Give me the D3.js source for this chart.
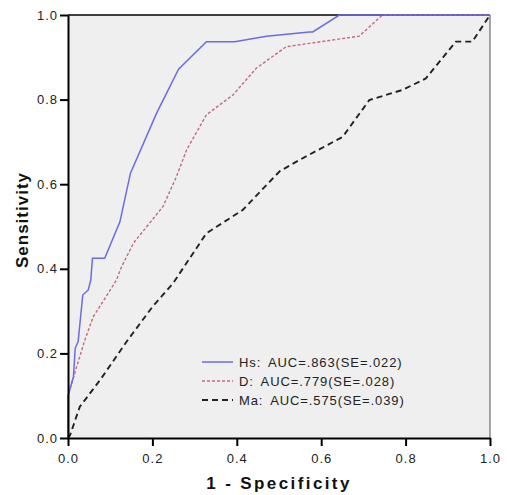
<!DOCTYPE html>
<html>
<head>
<meta charset="utf-8">
<script src="https://cdn.jsdelivr.net/npm/d3@7"></script>
<style>
  body { margin: 0; background: #fff; }
  text { font-family: "Liberation Sans", Arial, sans-serif; }
</style>
</head>
<body>
<svg id="chart" width="507" height="495"></svg>
<script>
// ROC curves
var hsX = [0, 0, 0.013, 0.017, 0.024, 0.035, 0.048, 0.054, 0.058, 0.087, 0.123, 0.148, 0.21, 0.262, 0.328, 0.395, 0.47, 0.572, 0.58, 0.643, 1.0]
var hsY = [0, 0.10, 0.145, 0.212, 0.228, 0.338, 0.35, 0.374, 0.425, 0.425, 0.511, 0.626, 0.768, 0.872, 0.937, 0.937, 0.95, 0.96, 0.96, 1.0, 1.0]

var dX = [0, 0, 0.017, 0.04, 0.06, 0.08, 0.115, 0.127, 0.156, 0.225, 0.257, 0.281, 0.328, 0.391, 0.446, 0.517, 0.572, 0.69, 0.745, 1.0]
var dY = [0, 0.10, 0.157, 0.232, 0.287, 0.318, 0.374, 0.405, 0.462, 0.547, 0.618, 0.681, 0.764, 0.811, 0.874, 0.925, 0.933, 0.95, 1.0, 1.0]

var maX = [0, 0.005, 0.028, 0.076, 0.139, 0.2, 0.249, 0.328, 0.414, 0.501, 0.548, 0.651, 0.714, 0.793, 0.848, 0.919, 0.958, 1.0]
var maY = [0, 0.007, 0.074, 0.137, 0.228, 0.31, 0.366, 0.484, 0.539, 0.63, 0.657, 0.712, 0.799, 0.823, 0.85, 0.937, 0.937, 1.0]

var seriesNames = ['Hs', 'D', 'Ma']
var legendLabels = ['Hs: AUC=.863(SE=.022)', 'D: AUC=.779(SE=.028)', 'Ma: AUC=.575(SE=.039)']
var tickValues = [0, 0.2, 0.4, 0.6, 0.8, 1.0]

var colors = ['#6b6be8', '#c46a7e', '#222']
var dashes = [null, '3,2', '6,4']
var widths = [1.5, 1.4, 1.9]

var svg = d3.select('#chart')
var plotLeft = 68, plotRight = 490, plotTop = 15, plotBottom = 438

var x = d3.scaleLinear().domain([0, 1]).range([plotLeft, plotRight])
var y = d3.scaleLinear().domain([0, 1]).range([plotBottom, plotTop])

// plot background
svg.append('rect')
  .attr('x', plotLeft).attr('y', plotTop)
  .attr('width', plotRight - plotLeft).attr('height', plotBottom - plotTop)
  .attr('fill', '#efefef')

// frame: grey right side, black top
svg.append('line')
  .attr('x1', plotRight).attr('x2', plotRight).attr('y1', plotTop).attr('y2', plotBottom)
  .attr('stroke', '#888').attr('stroke-width', 1.5)
svg.append('line')
  .attr('x1', plotLeft).attr('x2', plotRight).attr('y1', plotTop).attr('y2', plotTop)
  .attr('stroke', '#000').attr('stroke-width', 1.5)

var lineGen = d3.line()
  .x(function (d) { return x(d[0]) })
  .y(function (d) { return y(d[1]) })

var data = [d3.zip(hsX, hsY), d3.zip(dX, dY), d3.zip(maX, maY)]

// draw Ma first so Hs sits on top
;[2, 1, 0].forEach(function (i) {
  svg.append('path')
    .datum(data[i])
    .attr('d', lineGen)
    .attr('fill', 'none')
    .attr('stroke', colors[i])
    .attr('stroke-width', widths[i])
    .attr('stroke-dasharray', dashes[i])
})

// axes
var xAxis = d3.axisBottom(x).tickValues(tickValues).tickFormat(d3.format('.1f')).tickSize(8).tickSizeOuter(0)
var yAxis = d3.axisLeft(y).tickValues(tickValues).tickFormat(d3.format('.1f')).tickSize(8).tickSizeOuter(0)

var gx = svg.append('g').attr('transform', 'translate(0,' + plotBottom + ')').call(xAxis)
var gy = svg.append('g').attr('transform', 'translate(' + plotLeft + ',0)').call(yAxis)

;[gx, gy].forEach(function (g) {
  g.select('.domain').attr('stroke', '#000').attr('stroke-width', 2)
  g.selectAll('.tick line').attr('stroke', '#000').attr('stroke-width', 2)
  g.selectAll('.tick text')
    .attr('fill', '#222')
    .style('font-size', '13px')
    .style('letter-spacing', '1px')
})
gx.selectAll('.tick text').attr('dy', '1.05em')
gy.selectAll('.tick text').attr('x', -10)

// axis titles
svg.append('text')
  .attr('x', (plotLeft + plotRight) / 2).attr('y', 489)
  .attr('text-anchor', 'middle')
  .style('font-size', '17px').style('font-weight', 'bold').style('letter-spacing', '2.4px')
  .attr('fill', '#111')
  .text('1 - Specificity')

svg.append('text')
  .attr('transform', 'translate(28,220) rotate(-90)')
  .attr('text-anchor', 'middle')
  .style('font-size', '17px').style('font-weight', 'bold').style('letter-spacing', '1px')
  .attr('fill', '#111')
  .text('Sensitivity')

// legend
var legend = svg.append('g').attr('transform', 'translate(202,362)')
seriesNames.forEach(function (name, i) {
  var row = legend.append('g').attr('transform', 'translate(0,' + (i * 19) + ')')
  row.append('line')
    .attr('x1', 0).attr('x2', 31).attr('y1', 0).attr('y2', 0)
    .attr('stroke', colors[i])
    .attr('stroke-width', widths[i])
    .attr('stroke-dasharray', dashes[i])
  row.append('text')
    .attr('x', 37).attr('y', 5)
    .style('font-size', '13px')
    .style('letter-spacing', '0.9px')
    .style('word-spacing', '3px')
    .attr('fill', '#222')
    .text(legendLabels[i])
})
</script>
</body>
</html>
